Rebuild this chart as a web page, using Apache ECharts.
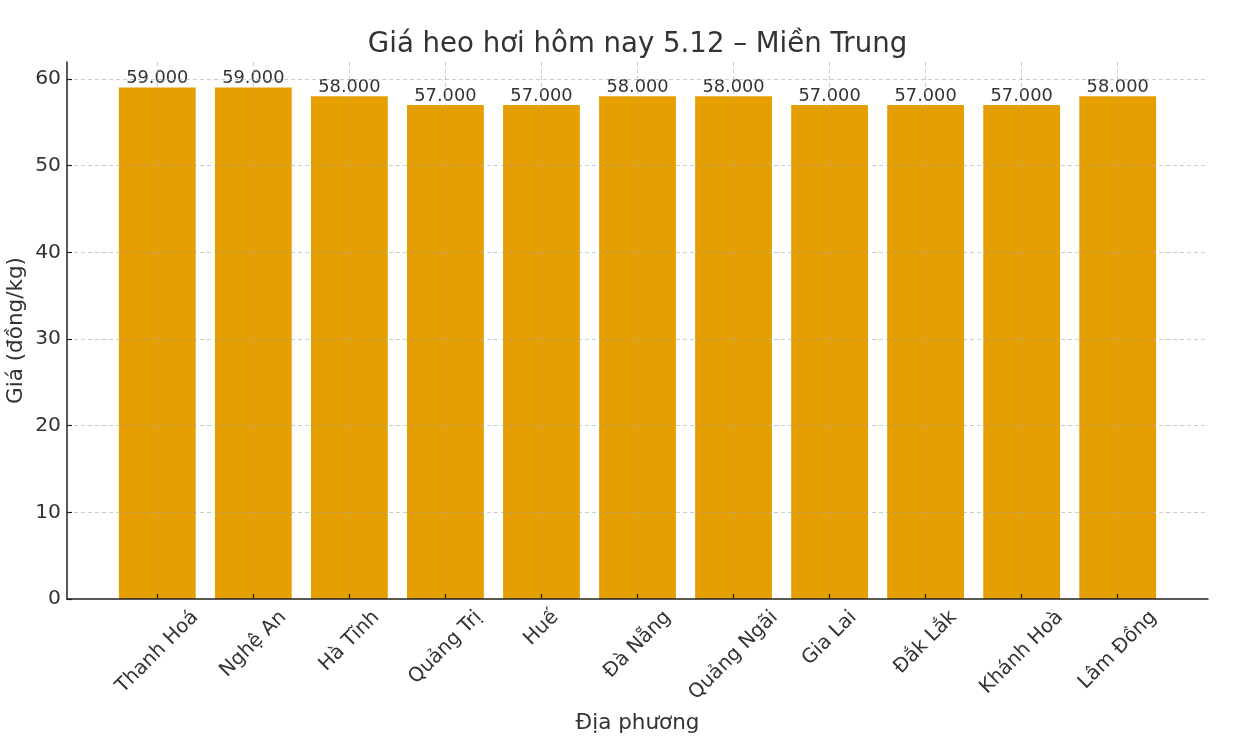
<!DOCTYPE html>
<html><head><meta charset="utf-8">
<script src="https://cdn.jsdelivr.net/npm/echarts@6/dist/echarts.min.js"></script>
<style>html,body{margin:0;padding:0;background:#fff}#c{width:1246px;height:748px}</style>
</head><body><div id="c"></div>
<script>
const chartTitle = 'Giá heo hơi hôm nay 5.12 – Miền Trung';
const categories = ['Thanh Hoá','Nghệ An','Hà Tĩnh','Quảng Trị','Huế','Đà Nẵng','Quảng Ngãi','Gia Lai','Đắk Lắk','Khánh Hoà','Lâm Đồng'];
const prices = [59,59,58,57,57,58,58,57,57,57,58];
const yMax = 61.95;
const yInterval = 10;
const xName = 'Địa phương';
const yName = 'Giá (đồng/kg)';

const FONT = '"DejaVu Sans", sans-serif';
const TICK_FS = 19.8;
const YTICK_FS = 20.3;
const TXT = '#333333';
const GRID_LINE = {color:'rgba(170,170,170,0.6)', width:1, type:[4,3]};

const cv = document.createElement('canvas').getContext('2d');
cv.font = TICK_FS + 'px ' + FONT;
function tw(t){ return cv.measureText(t).width; }

const chart = echarts.init(document.getElementById('c'), null, {renderer:'canvas'});
const outer = {left:67, right:38, top:62, bottom:149, containLabel:false, outerBoundsMode:'none'};
const inner = {left:157.3, right:128.3, top:62, bottom:149, containLabel:false, outerBoundsMode:'none'};

chart.setOption({
  animation:false,
  backgroundColor:'#ffffff',
  title:{text:chartTitle, left:632.5, textAlign:'center', top:26,
    textStyle:{fontFamily:FONT, fontSize:27.6, fontWeight:'normal', color:TXT}},
  grid:[outer, inner],
  xAxis:[
    {type:'value', gridIndex:0, min:0, max:1, z:3,
     axisLine:{show:true, onZero:false, lineStyle:{color:'#222', width:1.5}},
     axisTick:{show:false}, axisLabel:{show:false}, splitLine:{show:false},
     name:xName, nameLocation:'middle', nameGap:113, nameMoveOverlap:false,
     nameTextStyle:{fontFamily:FONT, fontSize:21.5, color:TXT}},
    {type:'category', gridIndex:1, data:categories, boundaryGap:false, z:3,
     axisLine:{show:false},
     axisTick:{show:true, inside:true, length:5, lineStyle:{color:'#222', width:1.2}},
     axisLabel:{show:false},
     splitLine:{show:true, lineStyle:GRID_LINE}}
  ],
  yAxis:[
    {type:'value', gridIndex:0, min:0, max:yMax, interval:yInterval, z:3,
     axisLine:{show:true, onZero:false, lineStyle:{color:'#222', width:1.5}},
     axisTick:{show:true, inside:true, length:5, lineStyle:{color:'#222', width:1.2}},
     axisLabel:{show:true, margin:6, showMaxLabel:false, fontFamily:FONT, fontSize:YTICK_FS, color:TXT},
     splitLine:{show:true, showMaxLine:false, showMinLine:false, lineStyle:GRID_LINE},
     name:yName, nameLocation:'middle', nameGap:40, nameRotate:90, nameMoveOverlap:false,
     nameTextStyle:{fontFamily:FONT, fontSize:21.5, color:TXT}},
    {type:'value', gridIndex:1, min:0, max:yMax, show:false, splitLine:{show:false}}
  ],
  series:[
    {type:'bar', xAxisIndex:1, yAxisIndex:1, data:prices, barWidth:76.8, clip:false, z:2,
     itemStyle:{color:'#E69F00'},
     label:{show:true, position:'top', distance:0, fontFamily:FONT, fontSize:17.8, color:TXT,
       formatter:function(p){ return p.value.toFixed(3); }}},
    {type:'custom', xAxisIndex:1, yAxisIndex:1, clip:false, z:5, silent:true,
     data:categories.map(function(c,i){return [i,0];}),
     renderItem:function(params, api){
       const idx = api.value(0);
       const p = api.coord([idx, 0]);
       const text = categories[idx];
       const w = tw(text), h = TICK_FS*1.17;
       return {type:'text', x:p[0], y:p[1] + 7 + (w+h)*Math.SQRT1_2/2, rotation:Math.PI/4,
         style:{text:text, textAlign:'center', textVerticalAlign:'middle',
                font: TICK_FS + 'px ' + FONT, fill:TXT}};
     }}
  ]
});
</script></body></html>
